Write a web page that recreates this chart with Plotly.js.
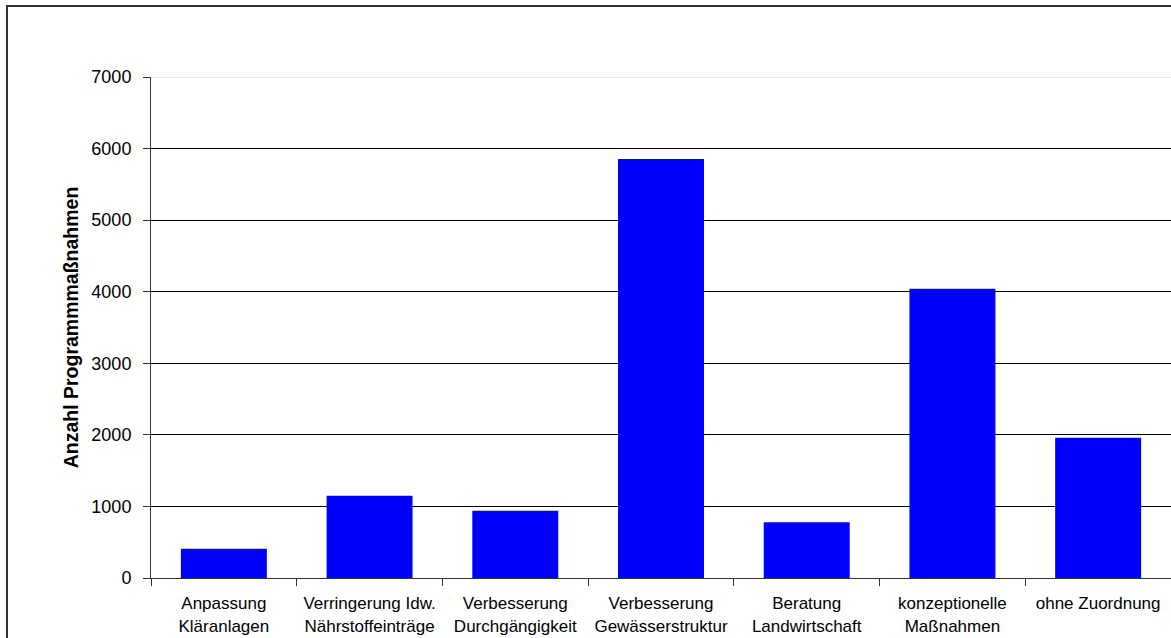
<!DOCTYPE html>
<html>
<head>
<meta charset="utf-8">
<script src="https://cdn.plot.ly/plotly-3.0.1.min.js"></script>
<style>
  html, body { margin: 0; padding: 0; background: #fff; overflow: hidden; }
  #wrap { position: relative; width: 1171px; height: 638px; overflow: hidden; }
  #chart { position: absolute; left: 0; top: 0; width: 1171px; height: 638px; }
  #frame { position: absolute; left: 6px; top: 5px; width: 1165px; height: 633px;
           box-sizing: border-box;
           border-left: 2px solid #333; border-top: 2px solid #333;
           border-right: 0; border-bottom: 0; pointer-events: none; }
</style>
</head>
<body>
<div id="wrap">
  <div id="chart"></div>
  <div id="frame"></div>
</div>
<script>
// Maßnahmenkategorien (Zeilenumbruch wie in der Achsenbeschriftung)
const categories = [
  "Anpassung<br>Kläranlagen",
  "Verringerung Idw.<br>Nährstoffeinträge",
  "Verbesserung<br>Durchgängigkeit",
  "Verbesserung<br>Gewässerstruktur",
  "Beratung<br>Landwirtschaft",
  "konzeptionelle<br>Maßnahmen",
  "ohne Zuordnung"
];
// Anzahl der Programmmaßnahmen je Kategorie
const counts = [410, 1150, 940, 5855, 780, 4040, 1960];
// Beschriftete Werte der y-Achse
const yTicks = [0, 1000, 2000, 3000, 4000, 5000, 6000, 7000];

const font = "Liberation Sans, Arial, sans-serif";
const yMax = yTicks[yTicks.length - 1];

const trace = {
  type: "bar",
  x: categories,
  y: counts,
  marker: { color: "#0000FF", line: { width: 0 } },
  hoverinfo: "x+y"
};

const layout = {
  width: 1171,
  height: 638,
  margin: { l: 151, r: 0, t: 77, b: 60 },
  paper_bgcolor: "rgba(0,0,0,0)",
  plot_bgcolor: "rgba(0,0,0,0)",
  bargap: 0.41,
  showlegend: false,
  font: { family: font, color: "#000", size: 16 },
  xaxis: {
    type: "category",
    tickson: "boundaries",
    ticks: "outside",
    ticklen: 7,
    tickcolor: "#333",
    ticklabelstandoff: 10,
    showline: true,
    linecolor: "#333",
    linewidth: 1,
    showgrid: false,
    tickfont: { family: font, size: 17, color: "#000" },
    fixedrange: true
  },
  yaxis: {
    range: [0, yMax],
    tickvals: yTicks,
    ticktext: yTicks.map(String),
    ticks: "outside",
    ticklen: 7,
    tickcolor: "#333",
    ticklabelstandoff: 8,
    showline: true,
    linecolor: "#333",
    linewidth: 1,
    showgrid: true,
    gridcolor: "#000",
    gridwidth: 1,
    zeroline: false,
    tickfont: { family: font, size: 18, color: "#000" },
    title: {
      text: "<b>Anzahl Programmmaßnahmen</b>",
      font: { family: font, size: 19.5, color: "#000" },
      standoff: 7
    },
    fixedrange: true
  },
  // obere Begrenzung des Diagrammbereichs in hellem Grau
  shapes: [{
    type: "line", xref: "paper", yref: "y",
    x0: 0, x1: 1, y0: yMax, y1: yMax,
    line: { color: "#d0d0d0", width: 1 }
  }]
};

Plotly.newPlot("chart", [trace], layout, { displayModeBar: false, staticPlot: true });
</script>
</body>
</html>
